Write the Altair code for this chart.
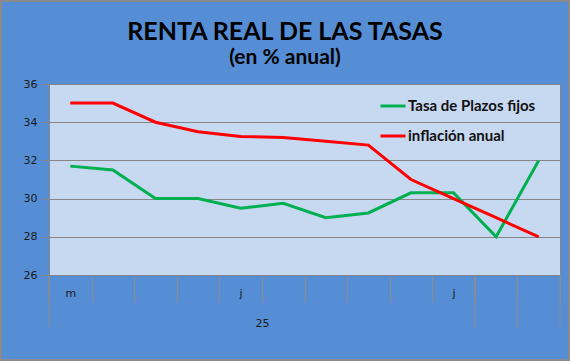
import json
import altair as alt
import pandas as pd

# --- data ---
title_text = "RENTA REAL DE LAS TASAS"
subtitle_text = "(en % anual)"
month_labels = ["m", "", "", "", "j", "", "", "", "", "j", "", ""]
year_label = "25"
year_span = (0, 10)               # bands covered by the year group
year_group_edges = [0, 10, 11, 12]  # band edges where the second axis level splits
plazos_fijos = [31.7, 31.5, 30.0, 30.0, 29.5, 29.75, 29.0, 29.25, 30.3, 30.3, 28.0, 32.0]
inflacion = [35.0, 35.0, 34.0, 33.5, 33.25, 33.2, 33.0, 32.8, 31.0, 30.0, 29.0, 28.0]
series_names = ["Tasa de Plazos fijos", "inflación anual"]
series_colors = ["#00B050", "#FF0000"]
y_ticks = [26, 28, 30, 32, 34, 36]

W, H = 511, 191
PAD = {"left": 49, "top": 84, "right": 10, "bottom": 86}

n = len(month_labels)
df = pd.DataFrame({
    "pos": [i + 0.5 for i in range(n)] * 2,
    "valor": plazos_fijos + inflacion,
    "serie": [series_names[0]] * n + [series_names[1]] * n,
    "orden": [0] * n + [1] * n,
})

x_values = list(range(n + 1)) + [i + 0.5 for i in range(n) if month_labels[i]]
label_expr = f"datum.value % 1 == 0 ? '' : {json.dumps(month_labels)}[floor(datum.value)]"
center = (year_span[0] + year_span[1]) / 2

x_scale = alt.Scale(domain=[0, n], nice=False, zero=False)

x_axis = alt.Axis(
    values=x_values,
    labelExpr=label_expr,
    labelOverlap=False,
    labelFlush=False,
    labelBound=False,
    grid=False,
    domain=False,
    tickColor="#8C8C8C",
    tickWidth=1,
    tickOpacity={"condition": {"test": "datum.value % 1 != 0", "value": 0}, "value": 1},
    tickSize=27,
    labelFont="DejaVu Sans",
    labelFontSize=11,
    labelColor="#1a1a1a",
    labelPadding=-15,
    title=year_label,
    titleX=alt.expr(f"width*{center}/{n}"),
    titleY=48,
    titleBaseline="middle",
    titleAlign="center",
    titleFont="DejaVu Sans",
    titleFontSize=11,
    titleFontWeight="normal",
    titleColor="#1a1a1a",
)

y_axis = alt.Axis(
    values=y_ticks,
    grid=True,
    gridColor="#868686",
    gridWidth=1,
    tickSize=8,
    tickColor="#868686",
    domainColor="#868686",
    labelFont="DejaVu Sans",
    labelFontSize=11,
    labelColor="#1a1a1a",
    labelPadding=4,
    title=None,
)

lines = alt.Chart(df).mark_line(strokeWidth=3).encode(
    x=alt.X("pos:Q", scale=x_scale, axis=x_axis),
    y=alt.Y("valor:Q", scale=alt.Scale(domain=[y_ticks[0], y_ticks[-1]], nice=False, zero=False), axis=y_axis),
    color=alt.Color(
        "serie:N",
        scale=alt.Scale(domain=series_names, range=series_colors),
        legend=alt.Legend(
            title=None,
            orient="none",
            legendX=330,
            legendY=8,
            symbolType="stroke",
            symbolSize=625,
            symbolStrokeWidth=3,
            labelFont="Lato",
            labelFontSize=15,
            labelFontWeight="bold",
            labelColor="#111111",
            labelOffset=1,
            rowPadding=8,
        ),
    ),
    order="orden:Q",
)

# long separators of the second axis level
edges = alt.Chart(pd.DataFrame({"edge": year_group_edges})).mark_rule(
    color="#8C8C8C", strokeWidth=1
).encode(
    x=alt.X("edge:Q", scale=x_scale, axis=x_axis),
    y=alt.value(H),
    y2=alt.value(H + 52),
)

# chart titles as text
titles = alt.Chart(pd.DataFrame({
    "t": [title_text, subtitle_text],
    "size": [25, 21],
    "k": [0, 1],
})).mark_text(
    font="Lato", fontWeight="bold", color="#000000", align="center", baseline="alphabetic"
).encode(
    text="t:N",
    x=alt.value(285 - PAD["left"]),
    y=alt.Y("k:Q", scale=alt.Scale(domain=[0, 1], range=[39.5 - PAD["top"], 63.5 - PAD["top"]]), axis=None),
    size=alt.Size("size:Q", scale=None, legend=None),
)

# outer frame of the chart (decoration)
frame = alt.Chart(pd.DataFrame({"f": [0]})).mark_rect(
    filled=False, stroke="#8A8A8A", strokeWidth=2
).encode(
    x=alt.value(-PAD["left"] + 1),
    x2=alt.value(W + PAD["right"] - 1),
    y=alt.value(-PAD["top"] + 1),
    y2=alt.value(H + PAD["bottom"] - 1),
)

chart = alt.layer(lines, edges, titles, frame).resolve_scale(
    y="independent"
).properties(
    width=W,
    height=H,
    autosize=alt.AutoSizeParams(type="none"),
    padding=PAD,
).configure(
    background="#558ED5",
).configure_view(
    fill="#C6D9F1",
    stroke="#868686",
    strokeWidth=1,
)

chart.save("out.html", embed_options={"renderer": "svg", "actions": False})
